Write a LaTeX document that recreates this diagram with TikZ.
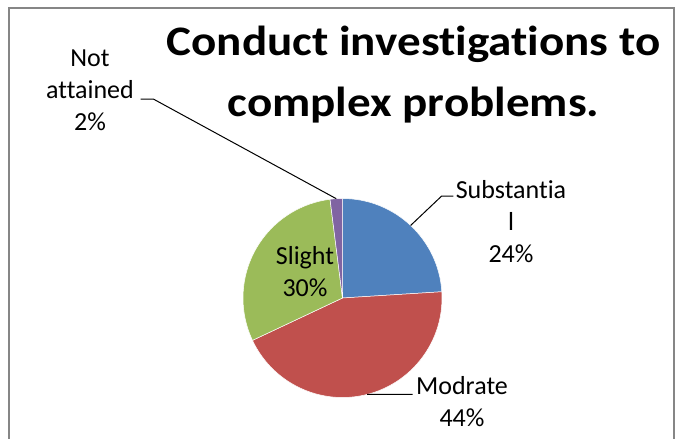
\documentclass[tikz,border=0pt]{standalone}
\usepackage{fontspec}
\setmainfont{Carlito}[Ligatures=NoCommon]
\newfontfamily\titlefont{Carlito}[FakeStretch=1.12, Ligatures=NoCommon]
\definecolor{sblue}{HTML}{4F81BD}
\definecolor{sred}{HTML}{C0504D}
\definecolor{sgreen}{HTML}{9BBB59}
\definecolor{spurple}{HTML}{8064A2}
\definecolor{framegray}{HTML}{868686}
\begin{document}
\begin{tikzpicture}[x=1pt,y=-1pt,
  lbl/.style={font=\fontsize{26}{32}\selectfont, align=center, inner sep=0pt, anchor=base},
  leader/.style={draw=black, line width=1pt},
  wedge/.style={draw=white, line width=0.5pt, line join=round}]
\useasboundingbox (0,0) rectangle (681,439);
\fill[white] (0,0) rectangle (681,439);
\draw[framegray, line width=1.5pt] (9,439) -- (9,8) -- (674,8) -- (674,439);
\def\R{99.5}
\coordinate (c) at (342.5,298);
% wedges
\filldraw[fill=sblue, wedge] (c) -- ([shift={(-90:\R)}]c) arc[start angle=-90, end angle=-3.6, radius=\R] -- cycle;
\filldraw[fill=sred, wedge] (c) -- ([shift={(-3.6:\R)}]c) arc[start angle=-3.6, end angle=154.8, radius=\R] -- cycle;
\filldraw[fill=sgreen, wedge] (c) -- ([shift={(154.8:\R)}]c) arc[start angle=154.8, end angle=262.8, radius=\R] -- cycle;
\filldraw[fill=spurple, wedge] (c) -- ([shift={(262.8:\R)}]c) arc[start angle=262.8, end angle=270, radius=\R] -- cycle;
% title (anchor=base is the baseline of the last line)
\node[font=\titlefont\bfseries\fontsize{42}{61}\selectfont, align=center, anchor=base, inner sep=0pt] (title) at (413.5,116.7) {Conduct investigations to\\complex problems.};
% labels
\node[lbl] (na) at (90,130.7) {Not\\attained\\2\%};
\node[lbl] (sub) at (511,262.7) {Substantia\\l\\24\%};
\node[lbl] (mod) at (462,426.7) {Modrate\\44\%};
\node[lbl] (sl) at (305,296.7) {Slight\\30\%};
% leader lines
\coordinate (na1) at (140.7,99);
\coordinate (na2) at (153.3,99);
\coordinate (pna) at ([shift={(266.4:\R)}]c);
\draw[leader] (na1) -- (na2) -- (pna);
\coordinate (sub1) at (453.3,196);
\coordinate (sub2) at (441.7,196);
\coordinate (psub) at ([shift={(-46.8:\R)}]c);
\draw[leader] (sub1) -- (sub2) -- (psub);
\coordinate (mod1) at (412.7,394.4);
\coordinate (pmod) at ([shift={(75.6:\R)}]c);
\draw[leader] (mod1) -- (pmod);
\end{tikzpicture}
\end{document}
